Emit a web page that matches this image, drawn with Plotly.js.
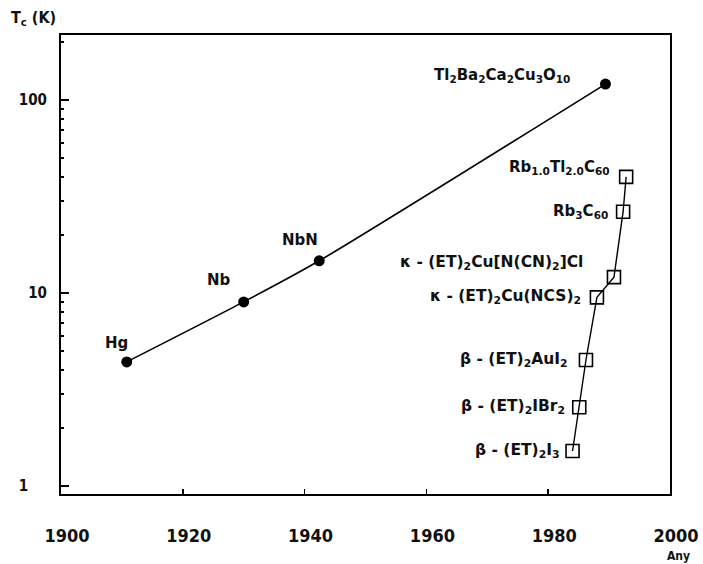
<!DOCTYPE html>
<html>
<head>
<meta charset="utf-8">
<script src="https://cdn.plot.ly/plotly-3.0.1.min.js"></script>
<style>html,body{margin:0;padding:0;background:#fff;}#chart{width:703px;height:564px;}</style>
</head>
<body>
<div id="chart"></div>
<script>
// ---- data ----
const metalNames = ["Hg", "Nb", "NbN", "Tl<sub>2</sub>Ba<sub>2</sub>Ca<sub>2</sub>Cu<sub>3</sub>O<sub>10</sub>"];
const metalYears = [1910.8, 1930.0, 1942.4, 1989.4];
const metalTc = [4.4, 9.0, 14.7, 121];

const molecularNames = [
  "β - (ET)<sub>2</sub>I<sub>3</sub>",
  "β - (ET)<sub>2</sub>IBr<sub>2</sub>",
  "β - (ET)<sub>2</sub>AuI<sub>2</sub>",
  "κ - (ET)<sub>2</sub>Cu(NCS)<sub>2</sub>",
  "κ - (ET)<sub>2</sub>Cu[N(CN)<sub>2</sub>]Cl",
  "Rb<sub>3</sub>C<sub>60</sub>",
  "Rb<sub>1.0</sub>Tl<sub>2.0</sub>C<sub>60</sub>"
];
const molecularYears = [1984.0, 1985.1, 1986.2, 1988.0, 1990.8, 1992.3, 1992.8];
const molecularTc = [1.52, 2.56, 4.5, 9.5, 12.1, 26.4, 40];

const xTickVals = [1900, 1920, 1940, 1960, 1980, 2000];
const yTickVals = [1, 10, 100];
const yTickText = ["1\u00a0\u00a0\u00a0\u00a0", "10", "100"];
const yMinorTicks = [2, 3, 4, 5, 6, 7, 8, 9, 20, 30, 40, 50, 60, 70, 80, 90, 200];

// ---- label placement (styling, pixels) ----
const metalLabelStyle = [
  {xanchor: "center", xshift: -10, yshift: 19},
  {xanchor: "center", xshift: -25, yshift: 22},
  {xanchor: "center", xshift: -19, yshift: 21},
  {xanchor: "right", xshift: -33, yshift: 9}
];
const molecularLabelStyle = [
  {xanchor: "right", xshift: -11, yshift: 0},
  {xanchor: "right", xshift: -12, yshift: 0},
  {xanchor: "right", xshift: -16, yshift: 0},
  {xanchor: "right", xshift: -14, yshift: 0},
  {xanchor: "right", xshift: -29, yshift: 14},
  {xanchor: "right", xshift: -13, yshift: 0},
  {xanchor: "right", xshift: -14, yshift: 9}
];

const FONT = "DejaVu Sans Condensed, Liberation Sans Narrow, sans-serif";
const LFONT = "DejaVu Sans, sans-serif";
const labelFont = {family: LFONT, size: 15, color: "#111", weight: "bold"};
const organicFont = {family: LFONT, size: 15.5, color: "#111", weight: "bold"};

const traces = [
  {
    x: metalYears, y: metalTc, type: "scatter", mode: "lines+markers",
    line: {color: "#000", width: 1.6, shape: "spline", smoothing: 0.6},
    marker: {symbol: "circle", size: 11, color: "#000"},
    hoverinfo: "skip", showlegend: false
  },
  {
    x: molecularYears, y: molecularTc, type: "scatter", mode: "lines+markers",
    line: {color: "#000", width: 1.4},
    marker: {symbol: "square-open", size: 13, color: "#000", line: {width: 1.6, color: "#000"}},
    hoverinfo: "skip", showlegend: false
  }
];

const annotations = [];
metalNames.forEach((t, i) => {
  const s = metalLabelStyle[i];
  annotations.push({x: metalYears[i], y: Math.log10(metalTc[i]), xref: "x", yref: "y",
    text: t, showarrow: false, xanchor: s.xanchor, yanchor: "middle",
    xshift: s.xshift, yshift: s.yshift, font: labelFont});
});
molecularNames.forEach((t, i) => {
  const s = molecularLabelStyle[i];
  annotations.push({x: molecularYears[i], y: Math.log10(molecularTc[i]), xref: "x", yref: "y",
    text: t, showarrow: false, xanchor: s.xanchor, yanchor: "middle",
    xshift: s.xshift, yshift: s.yshift, font: i < 5 ? organicFont : labelFont});
});
annotations.push({x: 0, y: 1, xref: "paper", yref: "paper", xanchor: "right", yanchor: "bottom",
  xshift: -3, yshift: 4, text: "T<sub>c</sub> (K)", showarrow: false,
  font: {family: FONT, size: 16, color: "#111", weight: "bold"}});
annotations.push({x: 1, y: 0, xref: "paper", yref: "paper", xanchor: "center", yanchor: "middle",
  xshift: 8, yshift: -62, text: "Any", showarrow: false, borderpad: 0,
  font: {family: FONT, size: 12, color: "#111", weight: "bold"}});

const layout = {
  width: 703, height: 564,
  margin: {l: 61, r: 33, t: 35, b: 70, pad: 0},
  paper_bgcolor: "#fff", plot_bgcolor: "#fff",
  font: {family: FONT, color: "#111"},
  xaxis: {
    range: [1900, 2000], tickmode: "array", tickvals: xTickVals,
    ticks: "inside", ticklen: 5, tickwidth: 1.5, tickcolor: "#000",
    showline: true, linewidth: 2, linecolor: "#000", mirror: true,
    showgrid: false, zeroline: false, ticklabelstandoff: 24, ticklabelshift: 6,
    tickfont: {family: FONT, size: 18, color: "#111", weight: "bold"}
  },
  yaxis: {
    type: "log", range: [-0.041, 2.337], tickmode: "array",
    tickvals: yTickVals, ticktext: yTickText,
    ticks: "inside", ticklen: 8, tickwidth: 1.5, tickcolor: "#000",
    minor: {tickmode: "array", tickvals: yMinorTicks, ticks: "inside", ticklen: 3, tickcolor: "#000", showgrid: false},
    showline: true, linewidth: 2, linecolor: "#000", mirror: true,
    showgrid: false, zeroline: false, ticklabelstandoff: 9,
    tickfont: {family: FONT, size: 15, color: "#111", weight: "bold"}
  },
  annotations: annotations
};

Plotly.newPlot("chart", traces, layout, {staticPlot: true, displayModeBar: false});
</script>
</body>
</html>
